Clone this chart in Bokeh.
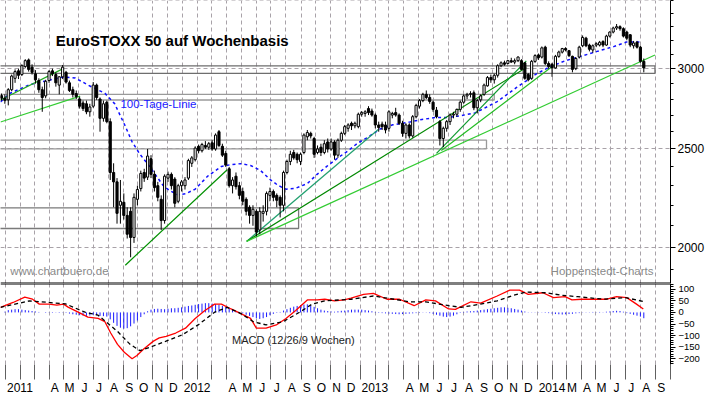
import pandas as pd
from bokeh.plotting import figure
from bokeh.models import (Range1d, FixedTicker, ColumnDataSource, Label, Span,
                          PrintfTickFormatter, CustomJSTickFormatter)
from bokeh.layouts import column
from bokeh.embed import file_html
from bokeh.resources import INLINE

FONT = "Liberation Sans"
ORIGIN = pd.Timestamp("2011-01-01")

# ---------------- data ----------------
first_week = "2010-12-24"
n_weeks = 190

open_ = [2822, 2805, 2795, 2860, 2935, 2985, 2960, 3015, 3060, 3010,
         2965, 2920, 2860, 2820, 2920, 2985, 2960, 2890, 2945, 2975,
         2905, 2860, 2835, 2800, 2775, 2770, 2720, 2755, 2890, 2800,
         2680, 2780, 2660, 2370, 2320, 2200, 2215, 2150, 2170, 2045,
         2230, 2285, 2370, 2345, 2445, 2360, 2300, 2230, 2125, 2340,
         2360, 2335, 2220, 2300, 2300, 2340, 2420, 2440, 2515, 2490,
         2520, 2510, 2535, 2500, 2600, 2515, 2475, 2390, 2300, 2350,
         2300, 2270, 2230, 2190, 2150, 2170, 2080, 2160, 2170, 2250,
         2270, 2250, 2240, 2200, 2370, 2430, 2480, 2470, 2430, 2480,
         2570, 2590, 2560, 2480, 2510, 2480, 2540, 2500, 2540, 2465,
         2550, 2590, 2620, 2650, 2635, 2630, 2705, 2710, 2740, 2725,
         2700, 2640, 2645, 2640, 2620, 2700, 2715, 2700, 2650, 2590,
         2640, 2575, 2690, 2755, 2790, 2830, 2810, 2780, 2730, 2660,
         2560, 2620, 2660, 2700, 2705, 2735, 2780, 2820, 2830, 2840,
         2745, 2795, 2830, 2885, 2940, 2925, 2955, 3020, 3040, 3035,
         3055, 3045, 3055, 3055, 3040, 2960, 2935, 3050, 3095, 3080,
         3150, 3035, 3030, 3005, 3085, 3115, 3140, 3125, 3085, 3000,
         3080, 3160, 3215, 3165, 3130, 3165, 3165, 3190, 3165, 3230,
         3260, 3290, 3300, 3285, 3260, 3240, 3160, 3185, 3150, 3050]
high = [2835, 2830, 2870, 2960, 2995, 3000, 3030, 3065, 3070, 3030,
        2990, 2935, 2880, 2925, 2990, 3000, 2975, 2950, 3025, 2985,
        2920, 2880, 2855, 2815, 2790, 2790, 2770, 2910, 2900, 2810,
        2790, 2790, 2680, 2420, 2340, 2330, 2260, 2190, 2190, 2260,
        2300, 2380, 2390, 2500, 2465, 2380, 2320, 2250, 2360, 2375,
        2370, 2345, 2310, 2330, 2345, 2445, 2460, 2515, 2525, 2535,
        2545, 2540, 2550, 2590, 2610, 2530, 2490, 2400, 2345, 2370,
        2320, 2290, 2240, 2200, 2200, 2180, 2190, 2200, 2270, 2290,
        2280, 2260, 2250, 2380, 2440, 2490, 2495, 2480, 2480, 2590,
        2610, 2600, 2570, 2520, 2530, 2550, 2560, 2560, 2550, 2560,
        2600, 2640, 2650, 2660, 2660, 2715, 2725, 2730, 2755, 2740,
        2710, 2660, 2660, 2660, 2730, 2720, 2745, 2710, 2665, 2650,
        2650, 2700, 2770, 2800, 2840, 2855, 2830, 2790, 2750, 2670,
        2630, 2670, 2710, 2720, 2740, 2790, 2830, 2840, 2850, 2855,
        2800, 2830, 2900, 2950, 2960, 2965, 3030, 3050, 3055, 3060,
        3075, 3070, 3085, 3065, 3045, 2970, 3060, 3100, 3105, 3155,
        3160, 3050, 3040, 3095, 3125, 3145, 3150, 3130, 3090, 3080,
        3160, 3235, 3225, 3175, 3170, 3185, 3195, 3200, 3240, 3265,
        3300, 3320, 3310, 3295, 3270, 3245, 3195, 3195, 3160, 3070]
low = [2790, 2770, 2760, 2850, 2905, 2930, 2950, 3005, 2980, 2960,
       2900, 2840, 2720, 2805, 2905, 2950, 2880, 2830, 2930, 2900,
       2845, 2810, 2800, 2740, 2725, 2705, 2690, 2745, 2795, 2600,
       2660, 2650, 2330, 2190, 2110, 2110, 2130, 2040, 1955, 2020,
       2200, 2270, 2320, 2330, 2340, 2270, 2220, 2080, 2110, 2320,
       2280, 2190, 2210, 2270, 2280, 2330, 2400, 2430, 2475, 2480,
       2500, 2495, 2490, 2490, 2510, 2455, 2400, 2290, 2260, 2280,
       2230, 2200, 2150, 2110, 2100, 2050, 2060, 2120, 2150, 2220,
       2220, 2190, 2140, 2170, 2360, 2410, 2440, 2420, 2410, 2470,
       2550, 2560, 2450, 2470, 2460, 2470, 2480, 2490, 2440, 2450,
       2540, 2580, 2600, 2610, 2620, 2620, 2690, 2690, 2700, 2690,
       2620, 2600, 2610, 2590, 2600, 2680, 2690, 2640, 2570, 2560,
       2560, 2565, 2680, 2740, 2780, 2800, 2770, 2720, 2680, 2520,
       2510, 2600, 2640, 2680, 2690, 2720, 2770, 2800, 2810, 2730,
       2710, 2780, 2820, 2880, 2905, 2900, 2940, 3010, 3020, 3030,
       3040, 3030, 3045, 2990, 2925, 2915, 2925, 3040, 3060, 3070,
       3025, 3000, 2945, 3000, 3075, 3105, 3120, 3080, 2975, 2990,
       3070, 3150, 3150, 3120, 3110, 3150, 3155, 3150, 3160, 3220,
       3250, 3275, 3270, 3220, 3200, 3150, 3140, 3140, 3040, 2975]
close = [2805, 2792, 2860, 2950, 2980, 2955, 3020, 3055, 2995, 2975,
         2925, 2860, 2810, 2915, 2980, 2965, 2905, 2945, 3010, 2910,
         2855, 2830, 2815, 2755, 2740, 2720, 2750, 2890, 2810, 2680,
         2770, 2660, 2370, 2320, 2160, 2220, 2150, 2060, 2045, 2240,
         2280, 2365, 2340, 2460, 2360, 2290, 2240, 2125, 2350, 2360,
         2300, 2210, 2300, 2320, 2330, 2435, 2450, 2505, 2490, 2525,
         2510, 2530, 2500, 2580, 2520, 2465, 2410, 2300, 2330, 2295,
         2250, 2220, 2170, 2150, 2180, 2070, 2170, 2170, 2260, 2270,
         2240, 2225, 2200, 2370, 2430, 2470, 2450, 2440, 2470, 2580,
         2595, 2575, 2470, 2500, 2480, 2530, 2500, 2540, 2465, 2550,
         2590, 2630, 2640, 2635, 2650, 2705, 2715, 2720, 2715, 2700,
         2640, 2625, 2630, 2610, 2720, 2710, 2700, 2650, 2590, 2640,
         2575, 2690, 2760, 2790, 2830, 2810, 2785, 2735, 2690, 2560,
         2620, 2660, 2700, 2705, 2735, 2780, 2820, 2830, 2835, 2745,
         2790, 2820, 2890, 2940, 2925, 2955, 3020, 3040, 3030, 3055,
         3045, 3055, 3080, 2995, 2935, 2925, 3050, 3090, 3075, 3145,
         3035, 3015, 3005, 3085, 3115, 3140, 3130, 3090, 2995, 3070,
         3150, 3220, 3160, 3135, 3160, 3175, 3185, 3165, 3230, 3260,
         3290, 3300, 3285, 3230, 3215, 3165, 3180, 3150, 3050, 3005]

# 100-Tage-Linie
ma_dates = ["2010-12-22", "2011-01-11", "2011-02-20", "2011-03-26", "2011-05-01", "2011-05-25",
            "2011-06-26", "2011-07-25", "2011-08-14", "2011-09-05", "2011-09-19", "2011-10-05",
            "2011-10-25", "2011-11-08", "2011-11-22", "2011-12-04", "2011-12-22", "2012-01-07",
            "2012-01-27", "2012-02-22", "2012-03-21", "2012-04-10", "2012-04-30", "2012-05-20",
            "2012-06-09", "2012-06-30", "2012-07-16", "2012-08-01", "2012-08-21", "2012-09-14",
            "2012-10-04", "2012-10-24", "2012-11-17", "2012-12-07", "2012-12-27", "2013-01-16",
            "2013-02-11", "2013-03-09", "2013-04-12", "2013-05-08", "2013-06-05", "2013-07-02",
            "2013-07-28", "2013-08-25", "2013-09-14", "2013-10-10", "2013-11-03", "2013-11-19",
            "2013-12-09", "2013-12-29", "2014-01-24", "2014-02-27", "2014-04-02", "2014-05-04",
            "2014-06-07", "2014-07-04", "2014-08-03"]
ma_values = [2782, 2837, 2893, 2918, 2944, 2937, 2881, 2837, 2771, 2633, 2541, 2471,
             2403, 2351, 2301, 2277, 2253, 2258, 2282, 2351, 2403, 2413, 2418, 2408,
             2382, 2331, 2301, 2282, 2287, 2311, 2360, 2403, 2452, 2490, 2534, 2566,
             2616, 2641, 2657, 2673, 2685, 2685, 2697, 2713, 2743, 2784, 2837, 2875,
             2918, 2963, 3008, 3054, 3087, 3120, 3154, 3188, 3188]

# MACD (12/26/9 Wochen)
macd_dates = ["2010-12-22", "2011-01-17", "2011-02-10", "2011-02-26", "2011-03-12", "2011-04-01",
              "2011-04-17", "2011-05-01", "2011-05-11", "2011-05-31", "2011-06-20", "2011-07-11",
              "2011-07-25", "2011-08-06", "2011-08-20", "2011-09-03", "2011-09-19", "2011-09-29",
              "2011-10-13", "2011-11-02", "2011-11-14", "2011-11-28", "2011-12-18", "2012-01-07",
              "2012-01-27", "2012-02-16", "2012-03-07", "2012-03-21", "2012-04-10", "2012-04-30",
              "2012-05-20", "2012-06-01", "2012-06-21", "2012-07-12", "2012-08-01", "2012-08-21",
              "2012-09-14", "2012-10-04", "2012-10-20", "2012-11-09", "2012-11-29", "2012-12-13",
              "2013-01-08", "2013-01-28", "2013-02-25", "2013-03-23", "2013-04-22", "2013-05-16",
              "2013-06-05", "2013-07-02", "2013-07-16", "2013-08-17", "2013-09-06", "2013-10-10",
              "2013-11-05", "2013-11-25", "2013-12-13", "2014-01-12", "2014-02-03", "2014-02-27",
              "2014-03-13", "2014-04-02", "2014-05-24", "2014-06-13", "2014-07-04", "2014-07-24",
              "2014-08-07"]
macd_values = [22, 43, 66, 57, 36, 36, 32, 36, 22, 1, -20, -26,
               -40, -89, -138, -172, -200, -186, -158, -124, -110, -103, -89, -68,
               -26, 8, 36, 36, 15, -5, -26, -68, -68, -54, -26, 8,
               54, 54, 57, 50, 54, 62, 78, 82, 57, 57, 29, 54,
               50, 15, 13, 46, 40, 71, 96, 96, 78, 85, 64, 68,
               54, 57, 57, 68, 64, 36, 15]
signal_dates = ["2010-12-22", "2011-02-20", "2011-05-05", "2011-06-14", "2011-07-11", "2011-08-20",
                "2011-09-15", "2011-10-05", "2011-11-02", "2011-11-28", "2012-01-01", "2012-02-02",
                "2012-03-07", "2012-04-02", "2012-04-30", "2012-05-26", "2012-06-21", "2012-07-26",
                "2012-08-29", "2012-09-24", "2012-10-20", "2012-12-13", "2013-01-28", "2013-03-03",
                "2013-04-12", "2013-05-16", "2013-07-02", "2013-07-28", "2013-09-06", "2013-10-10",
                "2013-11-13", "2013-12-09", "2014-01-18", "2014-02-21", "2014-03-25", "2014-05-18",
                "2014-07-01", "2014-07-24", "2014-08-07"]
signal_values = [22, 50, 37, 1, -12, -82, -138, -165, -145, -124, -96, -54,
                 1, 22, -5, -40, -54, -40, 1, 36, 50, 57, 71, 60,
                 46, 46, 29, 22, 36, 50, 74, 88, 85, 74, 68, 57,
                 64, 54, 47]
hist_values = [0, 3, 10, 12, 14, 14, 12, 10, 8, 6,
               4, 2, 0, -2, 1, -2, 1, -2, 1, -2,
               -5, -8, -10, -12, -14, -15, -13, -10, -12, -15,
               -16, -18, -30, -45, -58, -66, -70, -68, -60, -48,
               -35, -20, -8, 5, 12, 15, 16, 15, 14, 16,
               18, 18, 20, 22, 25, 28, 30, 33, 36, 38,
               40, 40, 38, 36, 33, 28, 22, 16, 10, 5,
               2, -4, -10, -15, -20, -25, -28, -25, -20, -12,
               -6, -2, 2, 8, 14, 20, 25, 28, 32, 34,
               35, 30, 24, 18, 12, 8, 6, 4, 3, 5,
               7, 8, 10, 12, 12, 12, 12, 10, 8, 5,
               2, -2, -3, -4, -5, -6, -7, -8, -7, -6,
               -5, -4, -3, -2, -1, -1, -3, -6, -10, -14,
               -18, -20, -18, -14, -8, -2, 2, 4, 5, 6,
               8, 10, 12, 14, 16, 18, 20, 22, 22, 20,
               18, 15, 12, 8, 4, 1, -1, 1, -1, 1,
               -2, -3, -5, -7, -8, -9, -8, -7, -6, -4,
               -3, -1, 1, -1, 2, -1, 2, 1, 3, 4,
               6, 7, 6, 3, -3, -6, -10, -14, -18, -25]

# Trendlinien
trend_start = ["2010-12-22", "2010-12-22", "2011-09-05", "2012-05-12", "2012-05-12",
               "2012-05-12", "2013-06-07", "2013-06-17"]
trend_p0 = [2658, 2794, 1920, 2027, 2027, 2027, 2475, 2491]
trend_end = ["2011-06-04", "2011-05-01", "2012-04-02", "2013-02-07", "2013-12-09",
             "2014-08-31", "2013-12-09", "2014-02-03"]
trend_p1 = [2819, 3002, 2385, 2613, 3008, 3094, 3054, 3021]
trend_color = ["#33cc33", "#22aa22", "#009000", "#22a070", "#008800", "#33cc33", "#109a30", "#22bb22"]

# Unterstuetzungs-/Widerstandszonen
zone_left = ["2010-12-01", "2010-12-01", "2010-12-01", "2010-12-01"]
zone_right = ["2014-08-31", "2013-10-04", "2013-09-18", "2012-08-27"]
zone_top = [3019, 2830, 2551, 2187]
zone_bottom = [2968, 2794, 2501, 2087]
zone_color = ["#6e6e6e", "#9a9a9a", "#9a9a9a", "#7a7a7a"]

# Zeitachse
label_months = ["2011-01", "2011-04", "2011-05", "2011-06", "2011-07", "2011-08", "2011-09", "2011-10",
                "2011-11", "2011-12", "2012-01", "2012-04", "2012-05", "2012-06", "2012-07", "2012-08",
                "2012-09", "2012-10", "2012-11", "2012-12", "2013-01", "2013-04", "2013-05", "2013-06",
                "2013-07", "2013-08", "2013-09", "2013-10", "2013-11", "2013-12", "2014-01", "2014-03",
                "2014-04", "2014-05", "2014-06", "2014-07", "2014-08", "2014-09"]
label_texts = ["2011", "A", "M", "J", "J", "A", "S", "O", "N", "D",
               "2012", "A", "M", "J", "J", "A", "S", "O", "N", "D",
               "2013", "A", "M", "J", "J", "A", "S", "O", "N", "D",
               "2014", "M", "A", "M", "J", "J", "A", "S"]
price_ticks = [2000, 2500, 3000]
macd_ticks = [-200, -150, -100, -50, 0, 50, 100]


def to_days(dates):
    d = pd.to_datetime(pd.Index(dates))
    return [float(v) for v in (d - ORIGIN) / pd.Timedelta(days=1)]


# ---------------- layout ----------------
FW = 670
RB = 35
x_range = Range1d(-10, 1370)
GRID_COLOR = "#a8a2a8"

week_x = to_days(pd.date_range(first_week, periods=n_weeks, freq="7D"))
month_x = to_days(pd.date_range("2011-01-01", "2014-10-01", freq="MS"))

p = figure(frame_width=FW, frame_height=283, x_range=x_range,
           y_range=Range1d(1842, 3502), y_axis_type="log", y_axis_location="right",
           x_axis_location=None, output_backend="svg", toolbar_location=None,
           min_border_left=0, min_border_top=0, min_border_bottom=0, min_border_right=RB)
p.outline_line_color = None
p.background_fill_color = "white"

ya = p.yaxis[0]
ya.ticker = FixedTicker(ticks=price_ticks, minor_ticks=list(range(1900, 3600, 100)))
ya.formatter = PrintfTickFormatter(format="%d")
ya.major_tick_in = 0
ya.major_tick_out = 5
ya.minor_tick_in = 0
ya.minor_tick_out = 3
ya.major_label_standoff = 2
ya.major_label_text_font = FONT
ya.major_label_text_font_size = "12px"
ya.major_label_text_color = "black"
ya.axis_line_color = "black"

p.xgrid.ticker = FixedTicker(ticks=month_x)
p.ygrid.ticker = FixedTicker(ticks=price_ticks + [3500])
for g in (p.xgrid, p.ygrid):
    g.grid_line_color = GRID_COLOR
    g.grid_line_dash = "4 3"
    g.grid_line_width = 1

# zones
zsrc = ColumnDataSource(dict(left=to_days(zone_left), right=to_days(zone_right),
                             top=zone_top, bottom=zone_bottom, color=zone_color))
p.quad(left="left", right="right", top="top", bottom="bottom", source=zsrc,
       fill_color=None, line_color="color", line_width=1.3)

# 100-Tage-Linie
p.line(to_days(ma_dates), ma_values, line_color="#1010ff", line_width=1.5, line_dash="3 3")

# trend lines
tsrc = ColumnDataSource(dict(x0=to_days(trend_start), y0=trend_p0, x1=to_days(trend_end),
                             y1=trend_p1, color=trend_color))
p.segment(x0="x0", y0="y0", x1="x1", y1="y1", source=tsrc, line_color="color", line_width=1.2)

# candles
csrc = ColumnDataSource(dict(
    x=week_x, o=open_, h=high, l=low, c=close,
    top=[max(o, c) for o, c in zip(open_, close)],
    bottom=[min(o, c) for o, c in zip(open_, close)],
    fill=["white" if c >= o else "black" for o, c in zip(open_, close)]))
p.segment(x0="x", y0="l", x1="x", y1="h", source=csrc, line_color="black", line_width=1)
p.vbar(x="x", width=4.4, top="top", bottom="bottom", source=csrc,
       fill_color="fill", line_color="black", line_width=1)

p.add_layout(Span(location=1842, dimension="width", line_color="black", line_width=2))

p.add_layout(Label(x=104, y=3197, text="EuroSTOXX 50 auf Wochenbasis", text_font=FONT,
                   text_font_size="15px", text_font_style="bold", text_color="black",
                   text_baseline="middle", text_align="left"))
p.add_layout(Label(x=237, y=2770, text="100-Tage-Linie", text_font=FONT,
                   text_font_size="11.5px", text_color="#1a1aff",
                   text_baseline="middle", text_align="left"))
p.add_layout(Label(x=10, y=1895, text="www.chartbuero.de", text_font=FONT,
                   text_font_size="11.5px", text_color="#8a8a8a",
                   text_baseline="middle", text_align="left"))
p.add_layout(Label(x=1123, y=1895, text="Hoppenstedt-Charts", text_font=FONT,
                   text_font_size="11.5px", text_color="#8a8a8a",
                   text_baseline="middle", text_align="left"))

# ---------------- MACD panel ----------------
q = figure(frame_width=FW, frame_height=81, x_range=x_range, y_range=Range1d(-225, 125),
           y_axis_location="right", output_backend="svg", toolbar_location=None,
           min_border_left=0, min_border_top=0, min_border_bottom=0, min_border_right=RB)
q.outline_line_color = None
q.ygrid.visible = False
q.xgrid.ticker = FixedTicker(ticks=month_x)
q.xgrid.grid_line_color = GRID_COLOR
q.xgrid.grid_line_dash = "4 3"

qa = q.yaxis[0]
qa.ticker = FixedTicker(ticks=macd_ticks, minor_ticks=list(range(-220, 121, 10)))
qa.major_tick_in = 0
qa.major_tick_out = 5
qa.minor_tick_in = 0
qa.minor_tick_out = 3
qa.major_label_standoff = 3
qa.major_label_text_font = FONT
qa.major_label_text_font_size = "9.5px"
qa.major_label_text_color = "black"
qa.axis_line_color = "black"

label_x = [round(d + (30 if len(t) == 4 else 12)) for d, t in zip(to_days([m + "-01" for m in label_months]), label_texts)]
xa = q.xaxis[0]
xa.ticker = FixedTicker(ticks=label_x, minor_ticks=[round(m) for m in month_x])
xa.formatter = CustomJSTickFormatter(args=dict(pos=label_x, lab=label_texts),
                                     code="const i = pos.indexOf(Math.round(tick)); return i >= 0 ? lab[i] : '';")
xa.major_tick_in = 0
xa.major_tick_out = 0
xa.minor_tick_in = 0
xa.minor_tick_out = 15
xa.minor_tick_line_color = "#606060"
xa.axis_line_color = None
xa.major_label_standoff = 1
xa.major_label_text_font = FONT
xa.major_label_text_font_size = "12px"
xa.major_label_text_color = "black"

q.segment(x0=week_x, y0=[0] * n_weeks, x1=week_x, y1=hist_values, line_color="#1a1aff", line_width=1)
q.line(to_days(macd_dates), macd_values, line_color="#ff0000", line_width=1.3)
q.line(to_days(signal_dates), signal_values, line_color="black", line_width=1.3, line_dash="4 3")
q.add_layout(Span(location=125, dimension="width", line_color="black", line_width=2))
q.add_layout(Label(x=467, y=-117, text="MACD (12/26/9 Wochen)", text_font=FONT,
                   text_font_size="11px", text_color="#222222",
                   text_baseline="middle", text_align="left"))

layout = column(p, q, spacing=0)
open("out.html", "w").write(file_html(layout, INLINE))
